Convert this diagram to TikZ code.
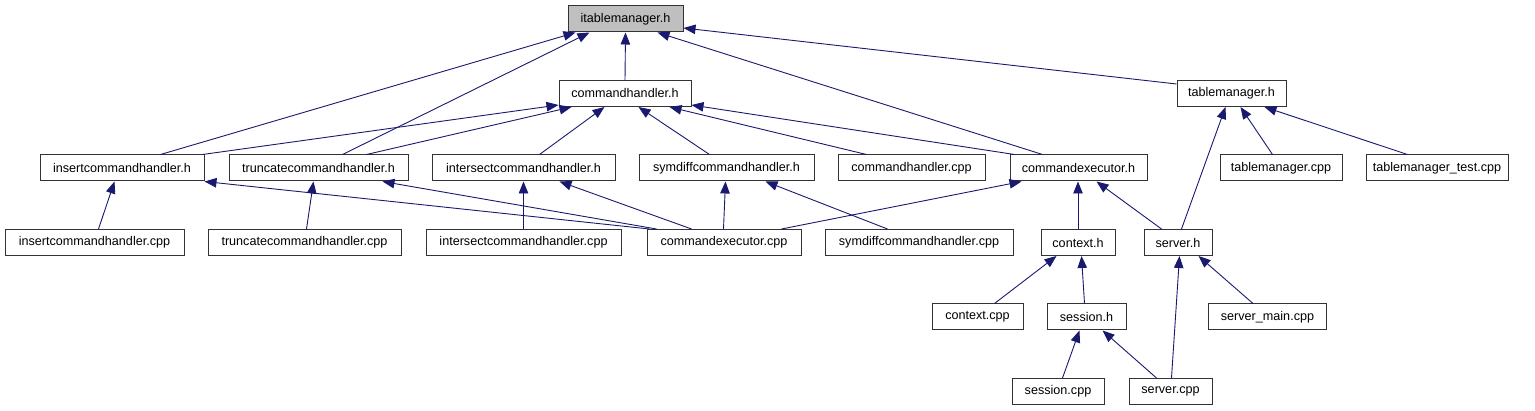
\documentclass[tikz,border=0pt]{standalone}
\usepackage{fontspec}
\setmainfont{Liberation Sans}
\usetikzlibrary{arrows.meta}
\definecolor{edgeblue}{HTML}{191970}
\definecolor{boxline}{HTML}{333333}
\definecolor{rootfill}{HTML}{BFBFBF}
\tikzset{
  box/.style={draw=boxline, line width=1pt, fill=white, inner sep=0pt, minimum height=26pt, font=\fontsize{12.6}{14}\selectfont},
  rootbox/.style={box, fill=rootfill},
  edge/.style={draw=edgeblue, line width=0.9pt, -{Triangle[length=12pt,width=9.5pt]}, shorten >=0pt},
}
\begin{document}
\begin{tikzpicture}[x=1pt,y=-1pt]
\useasboundingbox (0,0) rectangle (1535,411);
% row 0
\node[rootbox, minimum width=115pt] (root) at (625.5,19) {itablemanager.h};
% row 1
\node[box, minimum width=132pt] (cmdh) at (625,93.5) {commandhandler.h};
\node[box, minimum width=109pt] (tmh) at (1231.5,93.5) {tablemanager.h};
% row 2
\node[box, minimum width=164pt] (insh) at (122,168) {insertcommandhandler.h};
\node[box, minimum width=179pt] (trunch) at (318.5,168) {truncatecommandhandler.h};
\node[box, minimum width=183pt] (intersh) at (523.5,168) {intersectcommandhandler.h};
\node[box, minimum width=175pt] (symh) at (726.5,168) {symdiffcommandhandler.h};
\node[box, minimum width=147pt] (cmdcpp) at (911.5,168) {commandhandler.cpp};
\node[box, minimum width=137pt] (cexh) at (1078.5,168) {commandexecutor.h};
\node[box, minimum width=122pt] (tmcpp) at (1281,168) {tablemanager.cpp};
\node[box, minimum width=142pt] (tmtest) at (1437,168) {tablemanager\_test.cpp};
% row 3
\node[box, minimum width=179pt] (inscpp) at (94.5,242.5) {insertcommandhandler.cpp};
\node[box, minimum width=193pt] (trunccpp) at (304.5,242.5) {truncatecommandhandler.cpp};
\node[box, minimum width=195pt] (interscpp) at (523.5,242.5) {intersectcommandhandler.cpp};
\node[box, minimum width=154pt] (cexcpp) at (724,242.5) {commandexecutor.cpp};
\node[box, minimum width=188pt] (symcpp) at (919,242.5) {symdiffcommandhandler.cpp};
\node[box, minimum width=74pt] (ctxh) at (1078,242.5) {context.h};
\node[box, minimum width=68pt] (srvh) at (1178,242.5) {server.h};
% row 4
\node[box, minimum width=91pt] (ctxcpp) at (977.5,317) {context.cpp};
\node[box, minimum width=79pt] (sessh) at (1086.5,317) {session.h};
\node[box, minimum width=118pt] (srvmain) at (1267.5,317) {server\_main.cpp};
% row 5
\node[box, minimum width=92pt] (sesscpp) at (1058,391.5) {session.cpp};
\node[box, minimum width=83pt] (srvcpp) at (1170.5,391.5) {server.cpp};

% edges to itablemanager.h
\draw[edge] (cmdh.north) -- (root.south);
\draw[edge] ([xshift=121pt]insh.north west) -- ([xshift=8pt]root.south west);
\draw[edge] ([xshift=114pt]trunch.north west) -- ([xshift=22pt]root.south west);
\draw[edge] ([xshift=33pt]cexh.north west) -- ([xshift=90pt]root.south west);
\draw[edge] ([yshift=-4pt]tmh.north west) -- ([yshift=-9pt]root.east);
% edges to commandhandler.h
\draw[edge] ([xshift=163pt]insh.north west) -- ([yshift=2pt]cmdh.south west);
\draw[edge] ([xshift=138pt]trunch.north west) -- ([xshift=13pt]cmdh.south west);
\draw[edge] ([xshift=108pt]intersh.north west) -- ([xshift=46pt]cmdh.south west);
\draw[edge] ([xshift=71pt]symh.north west) -- ([xshift=80pt]cmdh.south west);
\draw[edge] ([xshift=29pt]cmdcpp.north west) -- ([xshift=111pt]cmdh.south west);
\draw[edge] ([xshift=5pt]cexh.north west) -- ([yshift=2pt]cmdh.south east);
% edges to tablemanager.h
\draw[edge] ([xshift=38pt]srvh.north west) -- ([xshift=49pt]tmh.south west);
\draw[edge] ([xshift=53pt]tmcpp.north west) -- ([xshift=64pt]tmh.south west);
\draw[edge] ([xshift=42pt]tmtest.north west) -- ([xshift=88pt]tmh.south west);
% edges to row-2 headers
\draw[edge] ([xshift=94pt]inscpp.north west) -- ([xshift=75pt]insh.south west);
\draw[edge] ([xshift=3pt]cexcpp.north west) -- (insh.south east);
\draw[edge] ([xshift=99pt]trunccpp.north west) -- ([xshift=85pt]trunch.south west);
\draw[edge] ([xshift=10pt]cexcpp.north west) -- ([xshift=154pt]trunch.south west);
\draw[edge] (interscpp.north) -- (intersh.south);
\draw[edge] ([xshift=45pt]cexcpp.north west) -- ([xshift=128pt]intersh.south west);
\draw[edge] ([xshift=77pt]cexcpp.north west) -- ([xshift=87pt]symh.south west);
\draw[edge] ([xshift=63pt]symcpp.north west) -- ([xshift=127pt]symh.south west);
\draw[edge] ([xshift=135pt]cexcpp.north west) -- ([xshift=12pt]cexh.south west);
\draw[edge] (ctxh.north) -- (ctxh.north |- cexh.south);
\draw[edge] ([xshift=18pt]srvh.north west) -- ([xshift=87pt]cexh.south west);
% edges to row-3 headers
\draw[edge] ([xshift=63pt]ctxcpp.north west) -- ([xshift=16pt]ctxh.south west);
\draw[edge] ([xshift=38pt]sessh.north west) -- ([xshift=41pt]ctxh.south west);
\draw[edge] ([xshift=45pt]srvmain.north west) -- ([xshift=55pt]srvh.south west);
\draw[edge] ([xshift=43pt]srvcpp.north west) -- ([xshift=36pt]srvh.south west);
% edges to session.h
\draw[edge] ([xshift=51pt]sesscpp.north west) -- ([xshift=33pt]sessh.south west);
\draw[edge] ([xshift=28pt]srvcpp.north west) -- ([xshift=56pt]sessh.south west);
\end{tikzpicture}
\end{document}
